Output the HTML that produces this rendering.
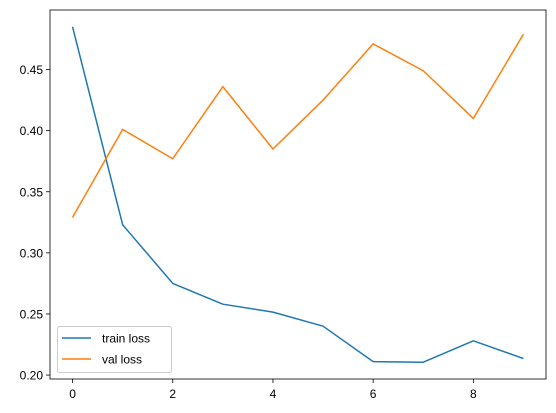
<!DOCTYPE html>
<html><head><meta charset="utf-8"><style>
body{margin:0;background:#fff;}
svg{display:block;font-family:"Liberation Sans","DejaVu Sans",sans-serif;}
</style></head><body>
<svg id="chart" width="556" height="413"></svg>
<script>
const epochs=[0,1,2,3,4,5,6,7,8,9];
const trainLoss=[0.485,0.323,0.275,0.258,0.2515,0.240,0.211,0.2105,0.228,0.2135];
const valLoss=[0.329,0.401,0.377,0.436,0.385,0.425,0.471,0.449,0.410,0.479];
const xTicks=[0,2,4,6,8];
const yTicks=[0.20,0.25,0.30,0.35,0.40,0.45];
const NS="http://www.w3.org/2000/svg";
const svg=document.getElementById('chart');
const L=50,R=546,T=10,B=379;
const all=trainLoss.concat(valLoss);
const mn=Math.min(...all),mx=Math.max(...all),pad=(mx-mn)*0.05;
const y0=mn-pad,y1=mx+pad;
const x0=-0.45,x1=9.45;
const sx=v=>L+(v-x0)/(x1-x0)*(R-L);
const sy=v=>B-(v-y0)/(y1-y0)*(B-T);
function el(t,a,p){const e=document.createElementNS(NS,t);for(const k in a)e.setAttribute(k,a[k]);(p||svg).appendChild(e);return e;}
xTicks.forEach(v=>{
 const g=el('g',{});
 
 
 el('line',{x1:sx(v),x2:sx(v),y1:B,y2:B+4,stroke:'#000','stroke-width':0.8},g);
 const t=el('text',{x:sx(v),y:B+19,'text-anchor':'middle','font-size':12,fill:'#000'},g);t.textContent=v;
});
yTicks.forEach(v=>{
 const g=el('g',{});
 
 
 el('line',{x1:L-4,x2:L,y1:sy(v),y2:sy(v),stroke:'#000','stroke-width':0.8},g);
 const t=el('text',{x:L-7,y:sy(v)+4.5,'text-anchor':'end','font-size':12,fill:'#000'},g);t.textContent=v.toFixed(2);
});
function line(data,color,name){
 const p=el('polyline',{points:data.map((v,i)=>sx(epochs[i])+','+sy(v)).join(' '),fill:'none',stroke:color,'stroke-width':1.5,'stroke-linejoin':'round'});
 
 
}
line(trainLoss,'#1f77b4','train-loss-line');
line(valLoss,'#ff7f0e','val-loss-line');
const frame=el('rect',{x:L,y:T,width:R-L,height:B-T,fill:'none',stroke:'#000','stroke-width':0.8});


const lg=el('g',{});


el('rect',{x:57.5,y:326.5,width:114,height:46,rx:2,fill:'#fff','fill-opacity':0.8,stroke:'#ccc','stroke-width':1},lg);
[['train loss','#1f77b4',338],['val loss','#ff7f0e',359]].forEach(([n,c,yy])=>{
 const g=el('g',{},lg);
 
 
 el('line',{x1:62,x2:91,y1:yy,y2:yy,stroke:c,'stroke-width':1.5},g);
 const t=el('text',{x:102,y:yy+4.5,'font-size':12,fill:'#000'},g);t.textContent=n;
});
</script>
</body></html>
